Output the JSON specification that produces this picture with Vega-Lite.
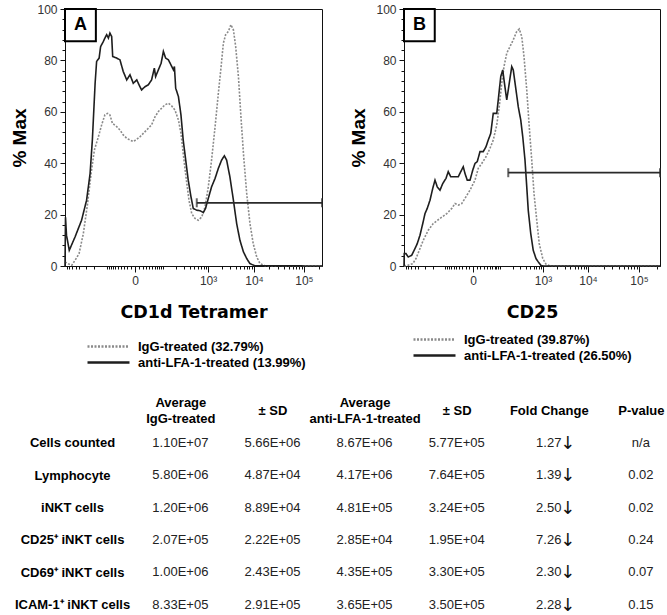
{
  "$schema": "https://vega.github.io/schema/vega-lite/v6.json",
  "background": "white",
  "padding": {"left": 10, "top": 2, "right": 0, "bottom": 0},
  "config": {
    "font": "Liberation Sans",
    "view": {"stroke": "#111", "strokeWidth": 1},
    "axis": {"grid": false, "domainColor": "#111", "tickColor": "#111", "labelColor": "#333", "labelFont": "Liberation Sans", "labelFontSize": 12},
    "axisQuantitative": {"labelOverlap": false, "labelFlush": false},
    "text": {"font": "Liberation Sans"}
  },
  "datasets": {
    "cd1d_tetramer": [
      {"treatment": "IgG-treated (32.79%)", "channel": 0, "pct_max": 1.6},
      {"treatment": "IgG-treated (32.79%)", "channel": 13, "pct_max": 0.9},
      {"treatment": "IgG-treated (32.79%)", "channel": 27, "pct_max": 0.3},
      {"treatment": "IgG-treated (32.79%)", "channel": 40, "pct_max": 2.2},
      {"treatment": "IgG-treated (32.79%)", "channel": 56, "pct_max": 4.8},
      {"treatment": "IgG-treated (32.79%)", "channel": 73, "pct_max": 12.6},
      {"treatment": "IgG-treated (32.79%)", "channel": 90, "pct_max": 24.3},
      {"treatment": "IgG-treated (32.79%)", "channel": 104, "pct_max": 36},
      {"treatment": "IgG-treated (32.79%)", "channel": 117, "pct_max": 45.1},
      {"treatment": "IgG-treated (32.79%)", "channel": 133, "pct_max": 50.3},
      {"treatment": "IgG-treated (32.79%)", "channel": 146, "pct_max": 54.9},
      {"treatment": "IgG-treated (32.79%)", "channel": 159, "pct_max": 58.8},
      {"treatment": "IgG-treated (32.79%)", "channel": 170, "pct_max": 59.4},
      {"treatment": "IgG-treated (32.79%)", "channel": 179, "pct_max": 58.8},
      {"treatment": "IgG-treated (32.79%)", "channel": 189, "pct_max": 55.5},
      {"treatment": "IgG-treated (32.79%)", "channel": 206, "pct_max": 54.2},
      {"treatment": "IgG-treated (32.79%)", "channel": 219, "pct_max": 52.9},
      {"treatment": "IgG-treated (32.79%)", "channel": 232, "pct_max": 51},
      {"treatment": "IgG-treated (32.79%)", "channel": 246, "pct_max": 49.7},
      {"treatment": "IgG-treated (32.79%)", "channel": 259, "pct_max": 49},
      {"treatment": "IgG-treated (32.79%)", "channel": 272, "pct_max": 48.4},
      {"treatment": "IgG-treated (32.79%)", "channel": 286, "pct_max": 49.3},
      {"treatment": "IgG-treated (32.79%)", "channel": 299, "pct_max": 50.3},
      {"treatment": "IgG-treated (32.79%)", "channel": 312, "pct_max": 51.6},
      {"treatment": "IgG-treated (32.79%)", "channel": 332, "pct_max": 53.6},
      {"treatment": "IgG-treated (32.79%)", "channel": 345, "pct_max": 54.9},
      {"treatment": "IgG-treated (32.79%)", "channel": 359, "pct_max": 58.1},
      {"treatment": "IgG-treated (32.79%)", "channel": 372, "pct_max": 60.1},
      {"treatment": "IgG-treated (32.79%)", "channel": 385, "pct_max": 61.4},
      {"treatment": "IgG-treated (32.79%)", "channel": 398, "pct_max": 62.7},
      {"treatment": "IgG-treated (32.79%)", "channel": 412, "pct_max": 63.3},
      {"treatment": "IgG-treated (32.79%)", "channel": 425, "pct_max": 62.3},
      {"treatment": "IgG-treated (32.79%)", "channel": 438, "pct_max": 60.7},
      {"treatment": "IgG-treated (32.79%)", "channel": 452, "pct_max": 56.8},
      {"treatment": "IgG-treated (32.79%)", "channel": 462, "pct_max": 51.6},
      {"treatment": "IgG-treated (32.79%)", "channel": 471, "pct_max": 43.8},
      {"treatment": "IgG-treated (32.79%)", "channel": 482, "pct_max": 34.7},
      {"treatment": "IgG-treated (32.79%)", "channel": 494, "pct_max": 25.6},
      {"treatment": "IgG-treated (32.79%)", "channel": 505, "pct_max": 20.4},
      {"treatment": "IgG-treated (32.79%)", "channel": 518, "pct_max": 18.5},
      {"treatment": "IgG-treated (32.79%)", "channel": 531, "pct_max": 17.8},
      {"treatment": "IgG-treated (32.79%)", "channel": 545, "pct_max": 19.1},
      {"treatment": "IgG-treated (32.79%)", "channel": 558, "pct_max": 23},
      {"treatment": "IgG-treated (32.79%)", "channel": 571, "pct_max": 30.8},
      {"treatment": "IgG-treated (32.79%)", "channel": 584, "pct_max": 41.2},
      {"treatment": "IgG-treated (32.79%)", "channel": 598, "pct_max": 54.2},
      {"treatment": "IgG-treated (32.79%)", "channel": 611, "pct_max": 67.2},
      {"treatment": "IgG-treated (32.79%)", "channel": 622, "pct_max": 77.6},
      {"treatment": "IgG-treated (32.79%)", "channel": 631, "pct_max": 86.7},
      {"treatment": "IgG-treated (32.79%)", "channel": 640, "pct_max": 90},
      {"treatment": "IgG-treated (32.79%)", "channel": 651, "pct_max": 91.3},
      {"treatment": "IgG-treated (32.79%)", "channel": 661, "pct_max": 93.9},
      {"treatment": "IgG-treated (32.79%)", "channel": 671, "pct_max": 91.9},
      {"treatment": "IgG-treated (32.79%)", "channel": 680, "pct_max": 85.4},
      {"treatment": "IgG-treated (32.79%)", "channel": 691, "pct_max": 73.7},
      {"treatment": "IgG-treated (32.79%)", "channel": 701, "pct_max": 58.1},
      {"treatment": "IgG-treated (32.79%)", "channel": 712, "pct_max": 42.5},
      {"treatment": "IgG-treated (32.79%)", "channel": 724, "pct_max": 28.2},
      {"treatment": "IgG-treated (32.79%)", "channel": 737, "pct_max": 16.5},
      {"treatment": "IgG-treated (32.79%)", "channel": 750, "pct_max": 8.7},
      {"treatment": "IgG-treated (32.79%)", "channel": 764, "pct_max": 3.5},
      {"treatment": "IgG-treated (32.79%)", "channel": 777, "pct_max": 0.9},
      {"treatment": "IgG-treated (32.79%)", "channel": 797, "pct_max": 0.1},
      {"treatment": "IgG-treated (32.79%)", "channel": 1024, "pct_max": 0},
      {"treatment": "anti-LFA-1-treated (13.99%)", "channel": 0, "pct_max": 0},
      {"treatment": "anti-LFA-1-treated (13.99%)", "channel": 2, "pct_max": 19},
      {"treatment": "anti-LFA-1-treated (13.99%)", "channel": 6, "pct_max": 12},
      {"treatment": "anti-LFA-1-treated (13.99%)", "channel": 17, "pct_max": 6.1},
      {"treatment": "anti-LFA-1-treated (13.99%)", "channel": 40, "pct_max": 11.3},
      {"treatment": "anti-LFA-1-treated (13.99%)", "channel": 66, "pct_max": 17.8},
      {"treatment": "anti-LFA-1-treated (13.99%)", "channel": 86, "pct_max": 25.6},
      {"treatment": "anti-LFA-1-treated (13.99%)", "channel": 100, "pct_max": 36},
      {"treatment": "anti-LFA-1-treated (13.99%)", "channel": 109, "pct_max": 49},
      {"treatment": "anti-LFA-1-treated (13.99%)", "channel": 120, "pct_max": 71.1},
      {"treatment": "anti-LFA-1-treated (13.99%)", "channel": 126, "pct_max": 79.6},
      {"treatment": "anti-LFA-1-treated (13.99%)", "channel": 136, "pct_max": 80.9},
      {"treatment": "anti-LFA-1-treated (13.99%)", "channel": 142, "pct_max": 85.4},
      {"treatment": "anti-LFA-1-treated (13.99%)", "channel": 153, "pct_max": 87.4},
      {"treatment": "anti-LFA-1-treated (13.99%)", "channel": 159, "pct_max": 88.7},
      {"treatment": "anti-LFA-1-treated (13.99%)", "channel": 166, "pct_max": 90},
      {"treatment": "anti-LFA-1-treated (13.99%)", "channel": 173, "pct_max": 88.7},
      {"treatment": "anti-LFA-1-treated (13.99%)", "channel": 179, "pct_max": 90.6},
      {"treatment": "anti-LFA-1-treated (13.99%)", "channel": 186, "pct_max": 89.3},
      {"treatment": "anti-LFA-1-treated (13.99%)", "channel": 190, "pct_max": 81.5},
      {"treatment": "anti-LFA-1-treated (13.99%)", "channel": 206, "pct_max": 80.9},
      {"treatment": "anti-LFA-1-treated (13.99%)", "channel": 219, "pct_max": 80.2},
      {"treatment": "anti-LFA-1-treated (13.99%)", "channel": 232, "pct_max": 75.7},
      {"treatment": "anti-LFA-1-treated (13.99%)", "channel": 246, "pct_max": 72.4},
      {"treatment": "anti-LFA-1-treated (13.99%)", "channel": 259, "pct_max": 74.4},
      {"treatment": "anti-LFA-1-treated (13.99%)", "channel": 272, "pct_max": 71.1},
      {"treatment": "anti-LFA-1-treated (13.99%)", "channel": 286, "pct_max": 72.4},
      {"treatment": "anti-LFA-1-treated (13.99%)", "channel": 295, "pct_max": 70.5},
      {"treatment": "anti-LFA-1-treated (13.99%)", "channel": 305, "pct_max": 68.5},
      {"treatment": "anti-LFA-1-treated (13.99%)", "channel": 319, "pct_max": 69.8},
      {"treatment": "anti-LFA-1-treated (13.99%)", "channel": 332, "pct_max": 70.5},
      {"treatment": "anti-LFA-1-treated (13.99%)", "channel": 345, "pct_max": 72.4},
      {"treatment": "anti-LFA-1-treated (13.99%)", "channel": 356, "pct_max": 77},
      {"treatment": "anti-LFA-1-treated (13.99%)", "channel": 361, "pct_max": 73.7},
      {"treatment": "anti-LFA-1-treated (13.99%)", "channel": 372, "pct_max": 76.3},
      {"treatment": "anti-LFA-1-treated (13.99%)", "channel": 383, "pct_max": 78.9},
      {"treatment": "anti-LFA-1-treated (13.99%)", "channel": 392, "pct_max": 83.5},
      {"treatment": "anti-LFA-1-treated (13.99%)", "channel": 401, "pct_max": 80.9},
      {"treatment": "anti-LFA-1-treated (13.99%)", "channel": 412, "pct_max": 80.2},
      {"treatment": "anti-LFA-1-treated (13.99%)", "channel": 422, "pct_max": 78.3},
      {"treatment": "anti-LFA-1-treated (13.99%)", "channel": 432, "pct_max": 76.3},
      {"treatment": "anti-LFA-1-treated (13.99%)", "channel": 436, "pct_max": 77.6},
      {"treatment": "anti-LFA-1-treated (13.99%)", "channel": 441, "pct_max": 69.2},
      {"treatment": "anti-LFA-1-treated (13.99%)", "channel": 452, "pct_max": 65.9},
      {"treatment": "anti-LFA-1-treated (13.99%)", "channel": 462, "pct_max": 58.8},
      {"treatment": "anti-LFA-1-treated (13.99%)", "channel": 471, "pct_max": 49},
      {"treatment": "anti-LFA-1-treated (13.99%)", "channel": 481, "pct_max": 41.2},
      {"treatment": "anti-LFA-1-treated (13.99%)", "channel": 491, "pct_max": 33.4},
      {"treatment": "anti-LFA-1-treated (13.99%)", "channel": 502, "pct_max": 26.9},
      {"treatment": "anti-LFA-1-treated (13.99%)", "channel": 511, "pct_max": 22.4},
      {"treatment": "anti-LFA-1-treated (13.99%)", "channel": 525, "pct_max": 21.7},
      {"treatment": "anti-LFA-1-treated (13.99%)", "channel": 538, "pct_max": 21.5},
      {"treatment": "anti-LFA-1-treated (13.99%)", "channel": 551, "pct_max": 20.8},
      {"treatment": "anti-LFA-1-treated (13.99%)", "channel": 560, "pct_max": 22.4},
      {"treatment": "anti-LFA-1-treated (13.99%)", "channel": 571, "pct_max": 26.3},
      {"treatment": "anti-LFA-1-treated (13.99%)", "channel": 584, "pct_max": 30.8},
      {"treatment": "anti-LFA-1-treated (13.99%)", "channel": 598, "pct_max": 34.1},
      {"treatment": "anti-LFA-1-treated (13.99%)", "channel": 611, "pct_max": 38},
      {"treatment": "anti-LFA-1-treated (13.99%)", "channel": 624, "pct_max": 41.2},
      {"treatment": "anti-LFA-1-treated (13.99%)", "channel": 635, "pct_max": 42.9},
      {"treatment": "anti-LFA-1-treated (13.99%)", "channel": 644, "pct_max": 41.2},
      {"treatment": "anti-LFA-1-treated (13.99%)", "channel": 657, "pct_max": 34.7},
      {"treatment": "anti-LFA-1-treated (13.99%)", "channel": 671, "pct_max": 25.6},
      {"treatment": "anti-LFA-1-treated (13.99%)", "channel": 684, "pct_max": 16.5},
      {"treatment": "anti-LFA-1-treated (13.99%)", "channel": 697, "pct_max": 10},
      {"treatment": "anti-LFA-1-treated (13.99%)", "channel": 711, "pct_max": 5.5},
      {"treatment": "anti-LFA-1-treated (13.99%)", "channel": 724, "pct_max": 2.9},
      {"treatment": "anti-LFA-1-treated (13.99%)", "channel": 737, "pct_max": 0.9},
      {"treatment": "anti-LFA-1-treated (13.99%)", "channel": 757, "pct_max": 0.1},
      {"treatment": "anti-LFA-1-treated (13.99%)", "channel": 1024, "pct_max": 0}
    ],
    "cd25": [
      {"treatment": "IgG-treated (39.87%)", "channel": 0, "pct_max": 0},
      {"treatment": "IgG-treated (39.87%)", "channel": 17, "pct_max": 0.3},
      {"treatment": "IgG-treated (39.87%)", "channel": 35, "pct_max": 0.9},
      {"treatment": "IgG-treated (39.87%)", "channel": 48, "pct_max": 2.9},
      {"treatment": "IgG-treated (39.87%)", "channel": 61, "pct_max": 6.1},
      {"treatment": "IgG-treated (39.87%)", "channel": 77, "pct_max": 10},
      {"treatment": "IgG-treated (39.87%)", "channel": 97, "pct_max": 13.9},
      {"treatment": "IgG-treated (39.87%)", "channel": 117, "pct_max": 16.5},
      {"treatment": "IgG-treated (39.87%)", "channel": 144, "pct_max": 18.5},
      {"treatment": "IgG-treated (39.87%)", "channel": 171, "pct_max": 20.4},
      {"treatment": "IgG-treated (39.87%)", "channel": 191, "pct_max": 22.4},
      {"treatment": "IgG-treated (39.87%)", "channel": 204, "pct_max": 24.3},
      {"treatment": "IgG-treated (39.87%)", "channel": 217, "pct_max": 23.7},
      {"treatment": "IgG-treated (39.87%)", "channel": 231, "pct_max": 24.3},
      {"treatment": "IgG-treated (39.87%)", "channel": 244, "pct_max": 26.3},
      {"treatment": "IgG-treated (39.87%)", "channel": 264, "pct_max": 29.5},
      {"treatment": "IgG-treated (39.87%)", "channel": 284, "pct_max": 33.4},
      {"treatment": "IgG-treated (39.87%)", "channel": 297, "pct_max": 38},
      {"treatment": "IgG-treated (39.87%)", "channel": 311, "pct_max": 39.9},
      {"treatment": "IgG-treated (39.87%)", "channel": 328, "pct_max": 42.5},
      {"treatment": "IgG-treated (39.87%)", "channel": 344, "pct_max": 45.8},
      {"treatment": "IgG-treated (39.87%)", "channel": 357, "pct_max": 49},
      {"treatment": "IgG-treated (39.87%)", "channel": 371, "pct_max": 54.9},
      {"treatment": "IgG-treated (39.87%)", "channel": 381, "pct_max": 62},
      {"treatment": "IgG-treated (39.87%)", "channel": 391, "pct_max": 71.1},
      {"treatment": "IgG-treated (39.87%)", "channel": 400, "pct_max": 77.6},
      {"treatment": "IgG-treated (39.87%)", "channel": 411, "pct_max": 82.8},
      {"treatment": "IgG-treated (39.87%)", "channel": 424, "pct_max": 85.4},
      {"treatment": "IgG-treated (39.87%)", "channel": 437, "pct_max": 88},
      {"treatment": "IgG-treated (39.87%)", "channel": 451, "pct_max": 91.3},
      {"treatment": "IgG-treated (39.87%)", "channel": 461, "pct_max": 92.2},
      {"treatment": "IgG-treated (39.87%)", "channel": 471, "pct_max": 89.3},
      {"treatment": "IgG-treated (39.87%)", "channel": 480, "pct_max": 81.5},
      {"treatment": "IgG-treated (39.87%)", "channel": 491, "pct_max": 68.5},
      {"treatment": "IgG-treated (39.87%)", "channel": 501, "pct_max": 54.2},
      {"treatment": "IgG-treated (39.87%)", "channel": 511, "pct_max": 41.2},
      {"treatment": "IgG-treated (39.87%)", "channel": 520, "pct_max": 28.2},
      {"treatment": "IgG-treated (39.87%)", "channel": 531, "pct_max": 17.8},
      {"treatment": "IgG-treated (39.87%)", "channel": 541, "pct_max": 8.7},
      {"treatment": "IgG-treated (39.87%)", "channel": 555, "pct_max": 2.9},
      {"treatment": "IgG-treated (39.87%)", "channel": 568, "pct_max": 0.7},
      {"treatment": "IgG-treated (39.87%)", "channel": 584, "pct_max": 0},
      {"treatment": "IgG-treated (39.87%)", "channel": 1024, "pct_max": 0},
      {"treatment": "anti-LFA-1-treated (26.50%)", "channel": 0, "pct_max": 0},
      {"treatment": "anti-LFA-1-treated (26.50%)", "channel": 1, "pct_max": 4.8},
      {"treatment": "anti-LFA-1-treated (26.50%)", "channel": 8, "pct_max": 4.8},
      {"treatment": "anti-LFA-1-treated (26.50%)", "channel": 17, "pct_max": 3.5},
      {"treatment": "anti-LFA-1-treated (26.50%)", "channel": 31, "pct_max": 4.2},
      {"treatment": "anti-LFA-1-treated (26.50%)", "channel": 44, "pct_max": 6.8},
      {"treatment": "anti-LFA-1-treated (26.50%)", "channel": 53, "pct_max": 8.7},
      {"treatment": "anti-LFA-1-treated (26.50%)", "channel": 64, "pct_max": 12},
      {"treatment": "anti-LFA-1-treated (26.50%)", "channel": 75, "pct_max": 16.5},
      {"treatment": "anti-LFA-1-treated (26.50%)", "channel": 84, "pct_max": 20.4},
      {"treatment": "anti-LFA-1-treated (26.50%)", "channel": 93, "pct_max": 22.4},
      {"treatment": "anti-LFA-1-treated (26.50%)", "channel": 104, "pct_max": 25.6},
      {"treatment": "anti-LFA-1-treated (26.50%)", "channel": 115, "pct_max": 30.2},
      {"treatment": "anti-LFA-1-treated (26.50%)", "channel": 124, "pct_max": 33.4},
      {"treatment": "anti-LFA-1-treated (26.50%)", "channel": 133, "pct_max": 30.8},
      {"treatment": "anti-LFA-1-treated (26.50%)", "channel": 144, "pct_max": 29.5},
      {"treatment": "anti-LFA-1-treated (26.50%)", "channel": 155, "pct_max": 32.1},
      {"treatment": "anti-LFA-1-treated (26.50%)", "channel": 168, "pct_max": 34.1},
      {"treatment": "anti-LFA-1-treated (26.50%)", "channel": 177, "pct_max": 36.7},
      {"treatment": "anti-LFA-1-treated (26.50%)", "channel": 187, "pct_max": 34.7},
      {"treatment": "anti-LFA-1-treated (26.50%)", "channel": 200, "pct_max": 34.7},
      {"treatment": "anti-LFA-1-treated (26.50%)", "channel": 217, "pct_max": 34.7},
      {"treatment": "anti-LFA-1-treated (26.50%)", "channel": 227, "pct_max": 36.7},
      {"treatment": "anti-LFA-1-treated (26.50%)", "channel": 237, "pct_max": 38.6},
      {"treatment": "anti-LFA-1-treated (26.50%)", "channel": 244, "pct_max": 36},
      {"treatment": "anti-LFA-1-treated (26.50%)", "channel": 253, "pct_max": 33.4},
      {"treatment": "anti-LFA-1-treated (26.50%)", "channel": 264, "pct_max": 33.4},
      {"treatment": "anti-LFA-1-treated (26.50%)", "channel": 275, "pct_max": 37.3},
      {"treatment": "anti-LFA-1-treated (26.50%)", "channel": 284, "pct_max": 39.9},
      {"treatment": "anti-LFA-1-treated (26.50%)", "channel": 293, "pct_max": 40.6},
      {"treatment": "anti-LFA-1-treated (26.50%)", "channel": 304, "pct_max": 44.5},
      {"treatment": "anti-LFA-1-treated (26.50%)", "channel": 317, "pct_max": 44.5},
      {"treatment": "anti-LFA-1-treated (26.50%)", "channel": 328, "pct_max": 46.4},
      {"treatment": "anti-LFA-1-treated (26.50%)", "channel": 337, "pct_max": 49},
      {"treatment": "anti-LFA-1-treated (26.50%)", "channel": 347, "pct_max": 51.6},
      {"treatment": "anti-LFA-1-treated (26.50%)", "channel": 357, "pct_max": 59.4},
      {"treatment": "anti-LFA-1-treated (26.50%)", "channel": 371, "pct_max": 59.4},
      {"treatment": "anti-LFA-1-treated (26.50%)", "channel": 377, "pct_max": 64.6},
      {"treatment": "anti-LFA-1-treated (26.50%)", "channel": 387, "pct_max": 73.7},
      {"treatment": "anti-LFA-1-treated (26.50%)", "channel": 395, "pct_max": 76.3},
      {"treatment": "anti-LFA-1-treated (26.50%)", "channel": 400, "pct_max": 72.4},
      {"treatment": "anti-LFA-1-treated (26.50%)", "channel": 411, "pct_max": 64.6},
      {"treatment": "anti-LFA-1-treated (26.50%)", "channel": 421, "pct_max": 71.1},
      {"treatment": "anti-LFA-1-treated (26.50%)", "channel": 431, "pct_max": 77.6},
      {"treatment": "anti-LFA-1-treated (26.50%)", "channel": 437, "pct_max": 76.3},
      {"treatment": "anti-LFA-1-treated (26.50%)", "channel": 448, "pct_max": 68.5},
      {"treatment": "anti-LFA-1-treated (26.50%)", "channel": 457, "pct_max": 62},
      {"treatment": "anti-LFA-1-treated (26.50%)", "channel": 467, "pct_max": 56.8},
      {"treatment": "anti-LFA-1-treated (26.50%)", "channel": 475, "pct_max": 50.3},
      {"treatment": "anti-LFA-1-treated (26.50%)", "channel": 484, "pct_max": 41.2},
      {"treatment": "anti-LFA-1-treated (26.50%)", "channel": 491, "pct_max": 30.8},
      {"treatment": "anti-LFA-1-treated (26.50%)", "channel": 497, "pct_max": 21.7},
      {"treatment": "anti-LFA-1-treated (26.50%)", "channel": 507, "pct_max": 12.6},
      {"treatment": "anti-LFA-1-treated (26.50%)", "channel": 517, "pct_max": 6.1},
      {"treatment": "anti-LFA-1-treated (26.50%)", "channel": 528, "pct_max": 2.9},
      {"treatment": "anti-LFA-1-treated (26.50%)", "channel": 537, "pct_max": 1.6},
      {"treatment": "anti-LFA-1-treated (26.50%)", "channel": 547, "pct_max": 0.3},
      {"treatment": "anti-LFA-1-treated (26.50%)", "channel": 557, "pct_max": 0},
      {"treatment": "anti-LFA-1-treated (26.50%)", "channel": 1024, "pct_max": 0}
    ],
    "cd1d_gate": [{"panel": "A", "start": 525, "end": 1024, "level": 24.6}],
    "cd25_gate": [{"panel": "B", "start": 417, "end": 1024, "level": 36.3}],
    "summary": [
      {"cell": "Cells counted", "avg_igg": "1.10E+07", "sd_igg": "5.66E+06", "avg_anti": "8.67E+06", "sd_anti": "5.77E+05", "fold": "1.27", "p": "n/a"},
      {"cell": "Lymphocyte", "avg_igg": "5.80E+06", "sd_igg": "4.87E+04", "avg_anti": "4.17E+06", "sd_anti": "7.64E+05", "fold": "1.39", "p": "0.02"},
      {"cell": "iNKT cells", "avg_igg": "1.20E+06", "sd_igg": "8.89E+04", "avg_anti": "4.81E+05", "sd_anti": "3.24E+05", "fold": "2.50", "p": "0.02"},
      {"cell": "CD25⁺ iNKT cells", "avg_igg": "2.07E+05", "sd_igg": "2.22E+05", "avg_anti": "2.85E+04", "sd_anti": "1.95E+04", "fold": "7.26", "p": "0.24"},
      {"cell": "CD69⁺ iNKT cells", "avg_igg": "1.00E+06", "sd_igg": "2.43E+05", "avg_anti": "4.35E+05", "sd_anti": "3.30E+05", "fold": "2.30", "p": "0.07"},
      {"cell": "ICAM-1⁺ iNKT cells", "avg_igg": "8.33E+05", "sd_igg": "2.91E+05", "avg_anti": "3.65E+05", "sd_anti": "3.50E+05", "fold": "2.28", "p": "0.15"}
    ]
  },
  "concat": [
    {
      "hconcat": [
        {
          "width": 257,
          "height": 257,
          "resolve": {"axis": {"x": "independent", "y": "independent"}},
          "layer": [
            {
              "data": {"name": "cd1d_tetramer"},
              "mark": {"type": "line", "strokeWidth": 1.6},
              "encoding": {
                "x": {
                  "field": "channel", "type": "quantitative",
                  "scale": {"domain": [0, 1024], "nice": false, "zero": false},
                  "axis": {
                    "orient": "bottom",
                    "title": "CD1d Tetramer", "titleFont": "DejaVu Sans", "titleFontSize": 17.5, "titleFontWeight": "bold", "titleColor": "#000", "titlePadding": 17,
                    "values": [279, 570, 753, 952],
                    "labelExpr": "datum.value == 279 ? '0' : datum.value == 570 ? '10³' : datum.value == 753 ? '10⁴' : '10⁵'",
                    "tickSize": 6, "labelFlush": false, "labelOverlap": false, "labelPadding": 3
                  }
                },
                "y": {
                  "field": "pct_max", "type": "quantitative",
                  "scale": {"domain": [0, 100], "nice": false},
                  "axis": {
                    "orient": "left",
                    "title": "% Max", "titleFont": "Liberation Sans", "titleFontSize": 19, "titleFontWeight": "bold", "titleColor": "#000", "titlePadding": 7,
                    "values": [0, 20, 40, 60, 80, 100],
                    "tickSize": 5, "labelOverlap": false, "labelPadding": 3
                  }
                },
                "color": {
                  "field": "treatment", "type": "nominal",
                  "scale": {"domain": ["IgG-treated (32.79%)", "anti-LFA-1-treated (13.99%)"], "range": ["#8a8a8a", "#1e1e1e"]},
                  "legend": {
                    "orient": "none", "legendX": 35, "legendY": 329, "title": null, "direction": "vertical",
                    "symbolType": "M-3,0L3,0", "symbolSize": 196, "symbolStrokeWidth": 2.5, "labelOffset": 21,
                    "labelFont": "Liberation Sans", "labelFontSize": 13, "labelFontWeight": "bold", "labelColor": "#000", "rowPadding": 0, "labelLimit": 400,
                    "encode": {"symbols": {"update": {"strokeDash": {"signal": "indexof(datum.value, 'IgG') === 0 ? [5, 2] : [1, 0]"}}}}
                  }
                },
                "strokeDash": {
                  "field": "treatment", "type": "nominal",
                  "scale": {"domain": ["IgG-treated (32.79%)", "anti-LFA-1-treated (13.99%)"], "range": [[2, 1.5], [1, 0]]},
                  "legend": null
                }
              }
            },
            {
              "data": {"name": "cd1d_gate"},
              "mark": {"type": "rule", "color": "#2a2a2a", "strokeWidth": 1.8},
              "encoding": {
                "x": {"field": "start", "type": "quantitative",
                  "axis": {"orient": "bottom", "title": null, "labels": false, "domain": false, "tickSize": 3,
                    "values": [6,16,29,43,56,83,115,166,174,182,190,200,210,222,235,249,264,294,309,323,336,348,358,368,376,384,392,443,475,497,515,530,542,552,562,625,657,680,698,712,725,735,745,813,848,873,892,908,921,933,943,1012]}},
                "x2": {"field": "end"},
                "y": {"field": "level", "type": "quantitative",
                  "axis": {"orient": "left", "title": null, "labels": false, "domain": false, "tickSize": 3,
                    "values": [4,8,12,16,24,28,32,36,44,48,52,56,64,68,72,76,84,88,92,96]}}
              }
            },
            {
              "data": {"name": "cd1d_gate"},
              "transform": [{"fold": ["start", "end"], "as": ["edge", "gate_channel"]}],
              "mark": {"type": "tick", "orient": "vertical", "color": "#2a2a2a", "thickness": 2, "size": 9},
              "encoding": {
                "x": {"field": "gate_channel", "type": "quantitative", "axis": null},
                "y": {"field": "level", "type": "quantitative", "axis": null}
              }
            },
            {
              "data": {"name": "cd1d_gate"},
              "mark": {"type": "rect", "fill": "#fff", "stroke": "#000", "strokeWidth": 2},
              "encoding": {
                "x": {"datum": 0, "axis": null},
                "x2": {"datum": 123},
                "y": {"datum": 100, "axis": null},
                "y2": {"datum": 87.5}
              }
            },
            {
              "data": {"name": "cd1d_gate"},
              "mark": {"type": "text", "fontSize": 18, "fontWeight": "bold", "color": "#000", "font": "Liberation Sans"},
              "encoding": {
                "x": {"datum": 62, "axis": null},
                "y": {"datum": 93.6, "axis": null},
                "text": {"field": "panel"}
              }
            }
          ]
        },
        {
          "width": 256,
          "height": 257,
          "resolve": {"axis": {"x": "independent", "y": "independent"}},
          "layer": [
            {
              "data": {"name": "cd25"},
              "mark": {"type": "line", "strokeWidth": 1.6},
              "encoding": {
                "x": {
                  "field": "channel", "type": "quantitative",
                  "scale": {"domain": [0, 1024], "nice": false, "zero": false},
                  "axis": {
                    "orient": "bottom",
                    "title": "CD25", "titleFont": "DejaVu Sans", "titleFontSize": 17.5, "titleFontWeight": "bold", "titleColor": "#000", "titlePadding": 17,
                    "values": [276, 556, 736, 940],
                    "labelExpr": "datum.value == 276 ? '0' : datum.value == 556 ? '10³' : datum.value == 736 ? '10⁴' : '10⁵'",
                    "tickSize": 6, "labelFlush": false, "labelOverlap": false, "labelPadding": 3
                  }
                },
                "y": {
                  "field": "pct_max", "type": "quantitative",
                  "scale": {"domain": [0, 100], "nice": false},
                  "axis": {
                    "orient": "left",
                    "title": "% Max", "titleFont": "Liberation Sans", "titleFontSize": 19, "titleFontWeight": "bold", "titleColor": "#000", "titlePadding": 7,
                    "values": [0, 20, 40, 60, 80, 100],
                    "tickSize": 5, "labelOverlap": false, "labelPadding": 3
                  }
                },
                "color": {
                  "field": "treatment", "type": "nominal",
                  "scale": {"domain": ["IgG-treated (39.87%)", "anti-LFA-1-treated (26.50%)"], "range": ["#8a8a8a", "#1e1e1e"]},
                  "legend": {
                    "orient": "none", "legendX": 22, "legendY": 322, "title": null, "direction": "vertical",
                    "symbolType": "M-3,0L3,0", "symbolSize": 196, "symbolStrokeWidth": 2.5, "labelOffset": 21,
                    "labelFont": "Liberation Sans", "labelFontSize": 13, "labelFontWeight": "bold", "labelColor": "#000", "rowPadding": 0, "labelLimit": 400,
                    "encode": {"symbols": {"update": {"strokeDash": {"signal": "indexof(datum.value, 'IgG') === 0 ? [5, 2] : [1, 0]"}}}}
                  }
                },
                "strokeDash": {
                  "field": "treatment", "type": "nominal",
                  "scale": {"domain": ["IgG-treated (39.87%)", "anti-LFA-1-treated (26.50%)"], "range": [[2, 1.5], [1, 0]]},
                  "legend": null
                }
              }
            },
            {
              "data": {"name": "cd25_gate"},
              "mark": {"type": "rule", "color": "#2a2a2a", "strokeWidth": 1.8},
              "encoding": {
                "x": {"field": "start", "type": "quantitative",
                  "axis": {"orient": "bottom", "title": null, "labels": false, "domain": false, "tickSize": 3,
                    "values": [6,16,29,43,55,82,114,164,172,180,188,198,208,220,232,246,261,290,305,318,331,342,352,362,369,377,385,434,465,486,503,518,529,539,548,610,642,664,682,696,709,718,728,798,833,859,879,895,908,921,931,1010]}},
                "x2": {"field": "end"},
                "y": {"field": "level", "type": "quantitative",
                  "axis": {"orient": "left", "title": null, "labels": false, "domain": false, "tickSize": 3,
                    "values": [4,8,12,16,24,28,32,36,44,48,52,56,64,68,72,76,84,88,92,96]}}
              }
            },
            {
              "data": {"name": "cd25_gate"},
              "transform": [{"fold": ["start", "end"], "as": ["edge", "gate_channel"]}],
              "mark": {"type": "tick", "orient": "vertical", "color": "#2a2a2a", "thickness": 2, "size": 9},
              "encoding": {
                "x": {"field": "gate_channel", "type": "quantitative", "axis": null},
                "y": {"field": "level", "type": "quantitative", "axis": null}
              }
            },
            {
              "data": {"name": "cd25_gate"},
              "mark": {"type": "rect", "fill": "#fff", "stroke": "#000", "strokeWidth": 2},
              "encoding": {
                "x": {"datum": 0, "axis": null},
                "x2": {"datum": 123},
                "y": {"datum": 100, "axis": null},
                "y2": {"datum": 87.5}
              }
            },
            {
              "data": {"name": "cd25_gate"},
              "mark": {"type": "text", "fontSize": 18, "fontWeight": "bold", "color": "#000", "font": "Liberation Sans"},
              "encoding": {
                "x": {"datum": 62, "axis": null},
                "y": {"datum": 93.6, "axis": null},
                "text": {"field": "panel"}
              }
            }
          ]
        }
      ],
      "spacing": 23,
      "resolve": {
        "scale": {"x": "independent", "y": "independent", "color": "independent", "strokeDash": "independent"},
        "legend": {"color": "independent", "strokeDash": "independent"}
      }
    },
    {
      "width": 604,
      "height": 181.4,
      "view": {"stroke": null},
      "data": {"name": "summary"},
      "transform": [{"fold": ["avg_igg", "sd_igg", "avg_anti", "sd_anti", "fold", "p"], "as": ["col", "val"]}],
      "layer": [
        {
          "mark": {"type": "text", "fontSize": 13, "color": "#222", "font": "Liberation Sans"},
          "encoding": {
            "x": {
              "field": "col", "type": "nominal",
              "scale": {"type": "point", "domain": ["avg_igg", "sd_igg", "avg_anti", "sd_anti", "fold", "p"], "padding": 0.779, "align": 0.804},
              "axis": {
                "orient": "top", "title": null, "domain": false, "ticks": false, "tickSize": 0,
                "labelPadding": {"condition": {"test": "datum.value == 'avg_igg' || datum.value == 'avg_anti'", "value": 31}, "value": 23},
                "labelAngle": 0, "labelAlign": "center", "labelBaseline": "middle", "labelLineHeight": 16,
                "labelFont": "Liberation Sans", "labelFontSize": 13, "labelFontWeight": "bold", "labelColor": "#000",
                "labelExpr": "{'avg_igg': ['Average', 'IgG-treated'], 'sd_igg': '± SD', 'avg_anti': ['Average', 'anti-LFA-1-treated'], 'sd_anti': '± SD', 'fold': 'Fold Change', 'p': 'P-value'}[datum.value]",
                "labelOverlap": false, "labelLimit": 300
              }
            },
            "y": {
              "field": "cell", "type": "nominal", "sort": null,
              "scale": {"type": "point", "padding": 0.3},
              "axis": {
                "title": null, "domain": false, "ticks": false, "tickSize": 0, "labelPadding": -7,
                "labelAlign": "center", "labelBaseline": "middle",
                "labelFont": "Liberation Sans", "labelFontSize": 13, "labelFontWeight": "bold", "labelColor": "#000", "labelLimit": 300
              }
            },
            "text": {"field": "val"}
          }
        },
        {
          "transform": [{"filter": "datum.col === 'fold'"}],
          "mark": {"type": "text", "text": "↓", "fontSize": 18, "dx": 19, "dy": 1, "color": "#111", "font": "DejaVu Sans"},
          "encoding": {
            "x": {"field": "col", "type": "nominal"},
            "y": {"field": "cell", "type": "nominal", "sort": null}
          }
        }
      ]
    }
  ],
  "columns": 1,
  "align": "none",
  "spacing": 25
}
